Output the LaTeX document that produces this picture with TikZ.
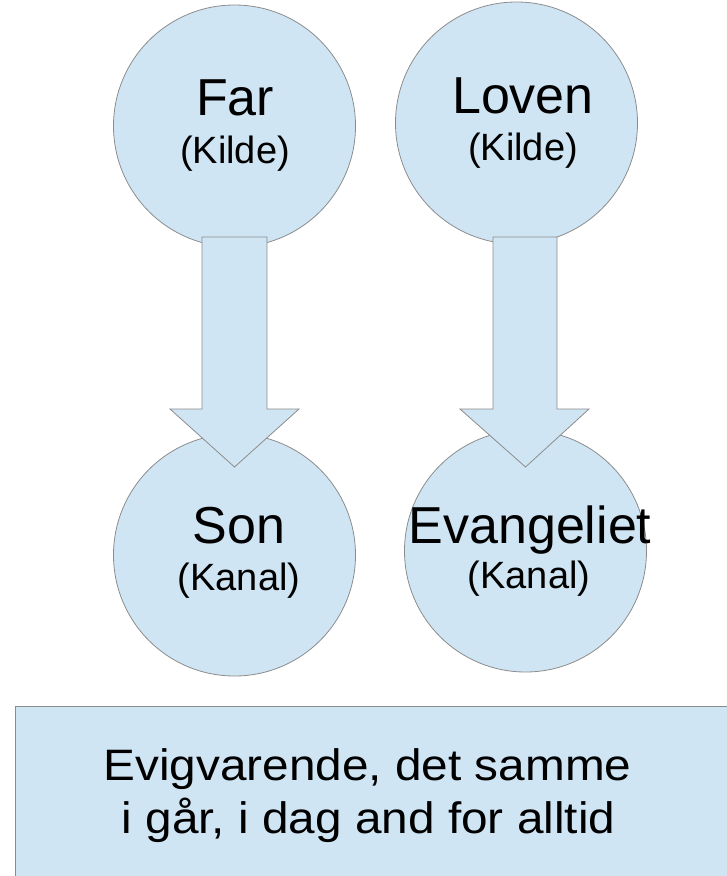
\documentclass[tikz,border=0pt]{standalone}
\usepackage{fontspec}
\setmainfont{Liberation Sans}
\newfontfamily\widesans[FakeStretch=1.085]{Liberation Sans}
\usetikzlibrary{calc}
\definecolor{blobfill}{HTML}{CFE5F3}
\definecolor{blobline}{HTML}{8C8C8C}
\tikzset{
  blob/.style={circle, draw=blobline, fill=blobfill, line width=0.8pt, minimum size=242pt, inner sep=0pt},
  bigarrow/.style={draw=blobline, fill=blobfill, line width=0.8pt, line join=miter},
  bigtxt/.style={font=\fontsize{52}{60}\selectfont, anchor=base, inner sep=0pt},
  smalltxt/.style={font=\fontsize{38}{44}\selectfont, anchor=base, inner sep=0pt},
  boxtxt/.style={font=\widesans\fontsize{44}{52}\selectfont, anchor=base, inner sep=0pt}
}
\begin{document}
\begin{tikzpicture}[x=1pt,y=-1pt]
\useasboundingbox (0,0) rectangle (727,876);
% circles
\node[blob] (far) at (234.5,126) {};
\node[blob] (loven) at (516.5,123) {};
\node[blob] (son) at (234.5,555) {};
\node[blob] (evang) at (525.5,551) {};
% arrows
\draw[bigarrow] ($(far.center)+(-32.5,111)$) -- ($(far.center)+(32.5,111)$)
  -- ($(far.center)+(32.5,283)$) -- ($(far.center)+(64.5,283)$)
  -- ($(son.center)+(0,-88)$) -- ($(far.center)+(-64.5,283)$)
  -- ($(far.center)+(-32.5,283)$) -- cycle;
\draw[bigarrow] ($(loven.center)+(-23.5,114)$) -- ($(loven.center)+(40.5,114)$)
  -- ($(loven.center)+(40.5,286)$) -- ($(loven.center)+(72.5,286)$)
  -- ($(evang.center)+(0,-84)$) -- ($(loven.center)+(-56.5,286)$)
  -- ($(loven.center)+(-23.5,286)$) -- cycle;
% texts
\node[bigtxt] (farT) at (235,115) {Far};
\node[smalltxt] (farK) at (235,163) {(Kilde)};
\node[bigtxt] (lovenT) at (523,113) {Loven};
\node[smalltxt] (lovenK) at (523,160) {(Kilde)};
\node[bigtxt] (sonT) at (239,543) {Son};
\node[smalltxt] (sonK) at (239,590) {(Kanal)};
\node[bigtxt] (evangT) at (530,543) {Evangeliet};
\node[smalltxt] (evangK) at (529,588) {(Kanal)};
% bottom box
\draw[draw=blobline, fill=blobfill, line width=0.8pt] (15,706) rectangle (740,890);
\node[boxtxt] (boxT1) at (367.5,780) {Evigvarende, det samme};
\node[boxtxt] (boxT2) at (368.5,833) {i går, i dag and for alltid};
\end{tikzpicture}
\end{document}
